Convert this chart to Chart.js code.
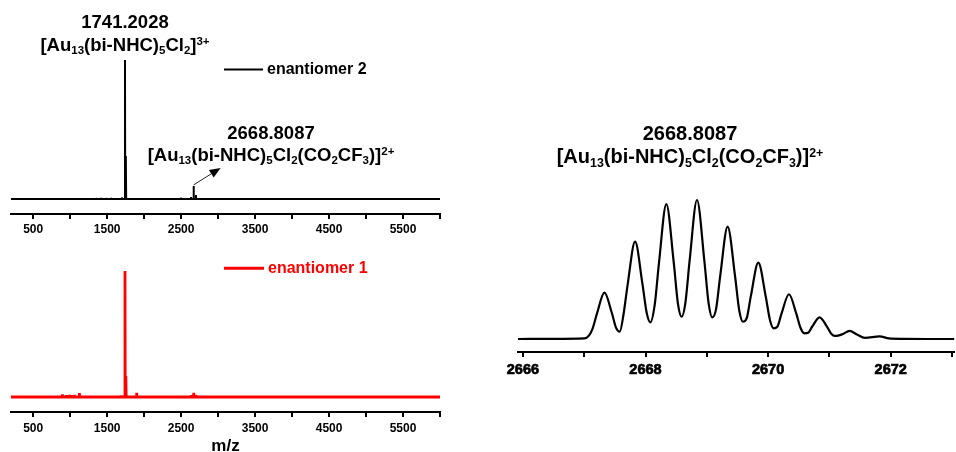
<!DOCTYPE html>
<html>
<head>
<meta charset="utf-8">
<script src="https://cdn.jsdelivr.net/npm/chart.js@4/dist/chart.umd.min.js"></script>
<style>
  html, body { margin: 0; padding: 0; background: #fff; }
  body { width: 956px; height: 452px; position: relative; overflow: hidden;
         font-family: "Liberation Sans", Arial, sans-serif; }
  canvas { position: absolute; }
  .note { position: absolute; width: 400px; text-align: center; font-weight: bold;
          color: #000; white-space: nowrap; }
  .note sub, .note sup { font-size: 0.62em; line-height: 0; }
  .note sub { vertical-align: -0.3em; }
  .note sup { vertical-align: 0.5em; }
</style>
</head>
<body>
<canvas id="survey2" width="450" height="240" style="left:0;top:0"></canvas>
<canvas id="survey1" width="450" height="220" style="left:0;top:240px"></canvas>
<canvas id="isotope" width="456" height="300" style="left:500px;top:100px"></canvas>

<div class="note" style="left:-75px;top:9.5px;font-size:18.5px;line-height:23px">
  <span id="mainLabel"></span><br>[Au<sub>13</sub>(bi-NHC)<sub>5</sub>Cl<sub>2</sub>]<sup>3+</sup>
</div>
<div class="note" style="left:71px;top:122.4px;font-size:18.5px;line-height:22px">
  <span id="adductLabel"></span><br>[Au<sub>13</sub>(bi-NHC)<sub>5</sub>Cl<sub>2</sub>(CO<sub>2</sub>CF<sub>3</sub>)]<sup>2+</sup>
</div>
<div class="note" style="left:490px;top:121.5px;font-size:20px;line-height:23px">
  <span id="isoLabel"></span><br>[Au<sub>13</sub>(bi-NHC)<sub>5</sub>Cl<sub>2</sub>(CO<sub>2</sub>CF<sub>3</sub>)]<sup>2+</sup>
</div>

<script>
// ---- survey spectra (m/z, relative intensity in %) ----
const mainPeakMz = 1741.2028;    // [Au13(bi-NHC)5Cl2]3+
const adductPeakMz = 2668.8087;  // [Au13(bi-NHC)5Cl2(CO2CF3)]2+

const surveyLabelTicks = [500, 1500, 2500, 3500, 4500, 5500];
const surveyMinorTicks = [1000, 2000, 3000, 4000, 5000, 6000];

const enant2Mz  = [1124, 1349, 1417, 1484, 1552, 1700, mainPeakMz, 1754, 1907, 1950, 2025, 2093, 2160,
                   2250, 2330, 2410, 2498, 2570, 2633, adductPeakMz, 2700, 2745, 2938];
const enant2Int = [0.7, 0.7, 0.7, 0.7, 0.7, 1.1, 100, 31, 0.6, 0.6, 0.6, 0.6, 0.6,
                   0.7, 0.7, 0.7, 0.9, 0.7, 1.4, 9.4, 2.9, 0.8, 0.7];

const enant1Mz  = [894, 948, 989, 1020, 1056, 1124, 1394, 1461, 1529, 1690, mainPeakMz, 1754,
                   1898, 1971, 2056, 2231, 2290, 2340, 2640, adductPeakMz, 2700];
const enant1Int = [2.1, 1.6, 1.8, 1.5, 1.8, 3.2, 0.5, 0.5, 0.5, 1.2, 100, 16.7,
                   3.4, 1.0, 0.8, 0.5, 0.5, 0.5, 1.6, 3.4, 1.6];

// ---- isotope pattern of the 2+ adduct (profile) ----
const isoLabelTicks = [2666, 2668, 2670, 2672];
const isoMinorTicks = [2667, 2669, 2671, 2673];
const isoMz  = [2665.92, 2666.5, 2667.0, 2667.08, 2667.14, 2667.21, 2667.33, 2667.45, 2667.52, 2667.58,
                2667.64, 2667.71, 2667.83, 2667.95, 2668.02, 2668.08,
                2668.15, 2668.22, 2668.34, 2668.46, 2668.53, 2668.59,
                2668.65, 2668.72, 2668.84, 2668.96, 2669.03, 2669.09,
                2669.15, 2669.22, 2669.34, 2669.46, 2669.53, 2669.59,
                2669.65, 2669.72, 2669.84, 2669.96, 2670.03, 2670.09,
                2670.15, 2670.22, 2670.34, 2670.46, 2670.53, 2670.59,
                2670.65, 2670.72, 2670.84, 2670.96, 2671.03, 2671.09,
                2671.14, 2671.22, 2671.33, 2671.45, 2671.58,
                2671.82, 2671.97, 2672.2, 2672.6, 2673.04];
const isoInt = [0, 0.1, 0.4, 2.6, 7.9, 18.6, 33.3, 18.9, 8.0, 5.3,
                17.3, 39.5, 70.0, 39.7, 18.7, 12.0,
                24.5, 54.8, 97.1, 55.3, 25.2, 16.0,
                25.8, 56.5, 100, 56.3, 25.5, 15.6,
                21.3, 45.8, 80.8, 45.5, 20.3, 12.4,
                14.8, 31.2, 54.9, 31.0, 13.7, 7.7,
                8.8, 18.4, 32.2, 18.2, 7.9, 4.1,
                4.4, 9.0, 15.6, 8.9, 3.8, 2.2,
                2.4, 3.6, 5.8, 3.2, 0.8,
                1.9, 0.4, 0.1, 0, 0];

document.getElementById('mainLabel').textContent = mainPeakMz.toFixed(4);
document.getElementById('adductLabel').textContent = adductPeakMz.toFixed(4);
document.getElementById('isoLabel').textContent = adductPeakMz.toFixed(4);

// stick spectrum: flat baseline with a narrow spike at every listed peak
function stickSeries(mz, inten, lo, hi) {
  const pts = [{x: lo, y: 0}];
  mz.forEach((m, i) => {
    pts.push({x: m - 3, y: 0}, {x: m, y: inten[i]}, {x: m + 3, y: 0});
  });
  pts.push({x: hi, y: 0});
  return pts;
}

// short line + name of the series, drawn inside the plot
const seriesKey = {
  id: 'seriesKey',
  afterDraw(chart, args, o) {
    if (!o || o.y == null) return;
    const ds = chart.data.datasets[0];
    const ctx = chart.ctx;
    ctx.save();
    ctx.strokeStyle = ds.borderColor;
    ctx.lineWidth = o.lineWidth;
    ctx.beginPath(); ctx.moveTo(o.x1, o.y); ctx.lineTo(o.x2, o.y); ctx.stroke();
    ctx.fillStyle = ds.borderColor;
    ctx.font = 'bold 16px "Liberation Sans", Arial, sans-serif';
    ctx.textBaseline = 'middle';
    ctx.fillText(ds.label, o.textX, o.y + 0.5);
    ctx.restore();
  }
};

// arrow from a peak apex towards its label
const peakArrow = {
  id: 'peakArrow',
  afterDatasetsDraw(chart, args, o) {
    if (!o || o.mz == null) return;
    const x0 = chart.scales.x.getPixelForValue(o.mz);
    const y0 = chart.scales.y.getPixelForValue(o.intensity) - 1;
    const x1 = x0 + o.dx, y1 = y0 + o.dy;
    const ang = Math.atan2(y1 - y0, x1 - x0);
    const hl = 11, hw = 4.5;
    const bx = x1 - hl * Math.cos(ang), by = y1 - hl * Math.sin(ang);
    const ctx = chart.ctx;
    ctx.save();
    ctx.strokeStyle = '#222'; ctx.fillStyle = '#000'; ctx.lineWidth = 1;
    ctx.beginPath(); ctx.moveTo(x0, y0); ctx.lineTo(bx, by); ctx.stroke();
    ctx.beginPath();
    ctx.moveTo(x1, y1);
    ctx.lineTo(bx + hw * Math.sin(ang), by - hw * Math.cos(ang));
    ctx.lineTo(bx - hw * Math.sin(ang), by + hw * Math.cos(ang));
    ctx.closePath(); ctx.fill();
    ctx.restore();
  }
};

function xAxis(min, max, labelTicks, minorTicks, o) {
  const all = labelTicks.concat(minorTicks).sort((a, b) => a - b);
  return {
    type: 'linear', position: 'bottom', min, max,
    afterBuildTicks: s => { s.ticks = all.map(v => ({value: v})); },
    afterFit: s => { s.height = o.height; },
    ticks: {
      autoSkip: false, maxRotation: 0, color: '#000', padding: o.padding,
      font: o.font,
      textStrokeColor: '#000', textStrokeWidth: o.stroke || 0,
      callback: v => labelTicks.includes(v) ? String(v) : ''
    },
    grid: { display: true, drawOnChartArea: false, drawTicks: true, tickLength: 5,
            tickWidth: 2, tickColor: '#000', color: '#000', lineWidth: 2 },
    border: { display: true, color: '#000', width: 2 },
    title: o.title || { display: false }
  };
}

const common = {
  responsive: false, animation: false, devicePixelRatio: 1,
  elements: { point: { radius: 0 } },
};

const surveyFont = { family: '"Liberation Sans", Arial, sans-serif', size: 12, weight: 'bold' };

new Chart(document.getElementById('survey2'), {
  type: 'line',
  data: { datasets: [{ label: 'enantiomer 2', data: stickSeries(enant2Mz, enant2Int, 200, 6000),
    borderColor: '#000', borderWidth: 2, borderJoinStyle: 'bevel', tension: 0, fill: false }] },
  options: Object.assign({}, common, {
    layout: { padding: { left: 11, right: 10, top: 40, bottom: 0 } },
    scales: {
      x: xAxis(200, 6000, surveyLabelTicks, surveyMinorTicks, { height: 26, padding: 3, font: surveyFont }),
      y: { display: false, min: -10.8, max: 114.4 }
    },
    plugins: {
      legend: { display: false }, tooltip: { enabled: false },
      seriesKey: { x1: 224, x2: 263, y: 69.5, textX: 267, lineWidth: 2 },
      peakArrow: { mz: adductPeakMz, intensity: 9.4, dx: 27, dy: -17 }
    }
  }),
  plugins: [seriesKey, peakArrow]
});

new Chart(document.getElementById('survey1'), {
  type: 'line',
  data: { datasets: [{ label: 'enantiomer 1', data: stickSeries(enant1Mz, enant1Int, 200, 6000),
    borderColor: '#ff0000', borderWidth: 2.8, borderJoinStyle: 'bevel', tension: 0, fill: false }] },
  options: Object.assign({}, common, {
    layout: { padding: { left: 11, right: 10, top: 10, bottom: 0 } },
    scales: {
      x: xAxis(200, 6000, surveyLabelTicks, surveyMinorTicks, {
        height: 48, padding: 4, font: surveyFont,
        title: { display: true, text: 'm/z', color: '#000',
                 font: { family: '"Liberation Sans", Arial, sans-serif', size: 17, weight: 'bold' },
                 padding: { top: 0, bottom: 3 } }
      }),
      y: { display: false, min: -11.9, max: 116.7 }
    },
    plugins: {
      legend: { display: false }, tooltip: { enabled: false },
      seriesKey: { x1: 224, x2: 264, y: 28.3, textX: 268, lineWidth: 3 }
    }
  }),
  plugins: [seriesKey]
});

new Chart(document.getElementById('isotope'), {
  type: 'line',
  data: { datasets: [{ label: 'isotope pattern', data: isoMz.map((m, i) => ({x: m, y: isoInt[i]})),
    borderColor: '#000', borderWidth: 2.2, cubicInterpolationMode: 'monotone', fill: false }] },
  options: Object.assign({}, common, {
    layout: { padding: { left: 18, right: 0, top: 80, bottom: 0 } },
    scales: {
      x: xAxis(2665.92, 2673.04, isoLabelTicks, isoMinorTicks, {
        height: 48, padding: 4, stroke: 0.7,
        font: { family: '"Liberation Sans", Arial, sans-serif', size: 14.5, weight: 'bold' }
      }),
      y: { display: false, min: -9.35, max: 114.4 }
    },
    plugins: { legend: { display: false }, tooltip: { enabled: false } }
  })
});
</script>
</body>
</html>
